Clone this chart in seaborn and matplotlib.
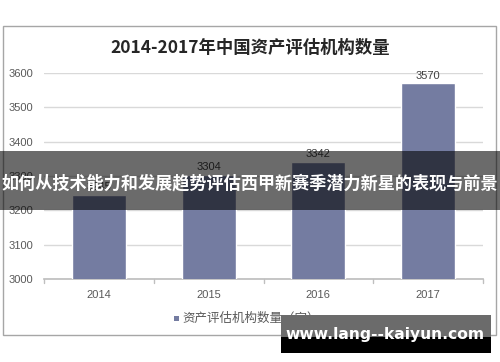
import matplotlib
matplotlib.use("Agg")
import matplotlib.pyplot as plt
import seaborn as sns
import pandas as pd
from matplotlib.patches import Rectangle

years = ["2014", "2015", "2016", "2017"]
counts = [3245, 3304, 3342, 3570]
yticks = [3000, 3100, 3200, 3300, 3400, 3500, 3600]
title = "2014-2017年中国资产评估机构数量"
legend_label = "资产评估机构数量（家）"
banner = "如何从技术能力和发展趋势评估西甲新赛季潜力新星的表现与前景"
watermark = "www.lang--kaiyun.com"

sns.set_theme(style="white")
plt.rcParams['font.family'] = ['Liberation Sans', 'Noto Sans CJK SC', 'DejaVu Sans']

W, H = 500, 362
fig = plt.figure(figsize=(5, 3.62), dpi=100)
fig.patch.set_facecolor("white")

def fx(x): return x / W
def fy(y): return 1 - y / H

ax = fig.add_axes([fx(44), fy(279), fx(483) - fx(44), fy(73) - fy(279)])
df = pd.DataFrame({"year": years, "count": counts})
bar_color = "#747ca1"
sns.barplot(data=df, x="year", y="count", color=bar_color, width=0.49, ax=ax,
            saturation=1, zorder=3)
ax.set_ylim(3000, 3600)
ax.set_xlim(-0.5, 3.5)
ax.set_yticks(yticks)
ax.set_yticklabels([str(v) for v in yticks], fontsize=8, color="#595959")
ax.set_xticks(range(len(years)))
ax.set_xticklabels(years, fontsize=8, color="#595959")
ax.tick_params(axis="y", length=0, pad=8)
ax.tick_params(axis="x", length=0, pad=8)
ax.grid(axis="y", color="#d9d9d9", linewidth=1, zorder=0)
ax.set_axisbelow(True)
for s in ["top", "right", "left"]:
    ax.spines[s].set_visible(False)
ax.spines["bottom"].set_color("#bfbfbf")
ax.set_xlabel("")
ax.set_ylabel("")
# boundary tick marks
for b in [-0.5, 0.5, 1.5, 2.5, 3.5]:
    ax.plot([b, b], [0, -0.02], transform=ax.get_xaxis_transform(), color="#bfbfbf",
            lw=1, clip_on=False)

for i, v in enumerate(counts):
    ax.text(i, v + 8, str(v), ha="center", va="bottom", fontsize=8, color="#404040", zorder=4)

# title
fig.text(0.5, fy(48), title, ha="center", va="center", fontsize=12.5,
         family=['Noto Sans CJK SC', 'DejaVu Sans'], fontweight="bold", color="#262626")

# legend
fig.patches.append(Rectangle((fx(174), fy(321)), fx(5), 5 / H, transform=fig.transFigure,
                             facecolor=bar_color, edgecolor="none"))
fig.text(fx(182), fy(318), legend_label, ha="left", va="center", fontsize=9,
         family=['Noto Sans CJK SC', 'DejaVu Sans'], color="#595959")

# outer border
fig.patches.append(Rectangle((fx(3), fy(335)), fx(496) - fx(3), fy(26) - fy(335),
                             transform=fig.transFigure, facecolor="none",
                             edgecolor="#a6a6a6", lw=1))

# banner overlay
fig.patches.append(Rectangle((0, fy(210)), 1, fy(151) - fy(210), transform=fig.transFigure,
                             facecolor="black", alpha=0.58, edgecolor="none", zorder=10))
fig.text(0.5, fy(183), banner, ha="center", va="center", fontsize=12.3, color="white",
         fontweight="bold", family=['Noto Sans CJK SC', 'DejaVu Sans'], zorder=11)

# watermark
fig.patches.append(Rectangle((fx(281), fy(337)), fx(491) - fx(281), fy(315) - fy(337),
                             transform=fig.transFigure, facecolor="#6b6b6b",
                             edgecolor="none", zorder=10))
fig.patches.append(Rectangle((fx(281), fy(353)), fx(491) - fx(281), fy(337) - fy(353),
                             transform=fig.transFigure, facecolor="black",
                             edgecolor="none", zorder=10))
fig.text(fx(385), fy(335), watermark, ha="center", va="center", fontsize=11.2, color="white",
         fontweight="bold", family=['DejaVu Sans'], zorder=11)

fig.savefig("out.png", dpi=100)
